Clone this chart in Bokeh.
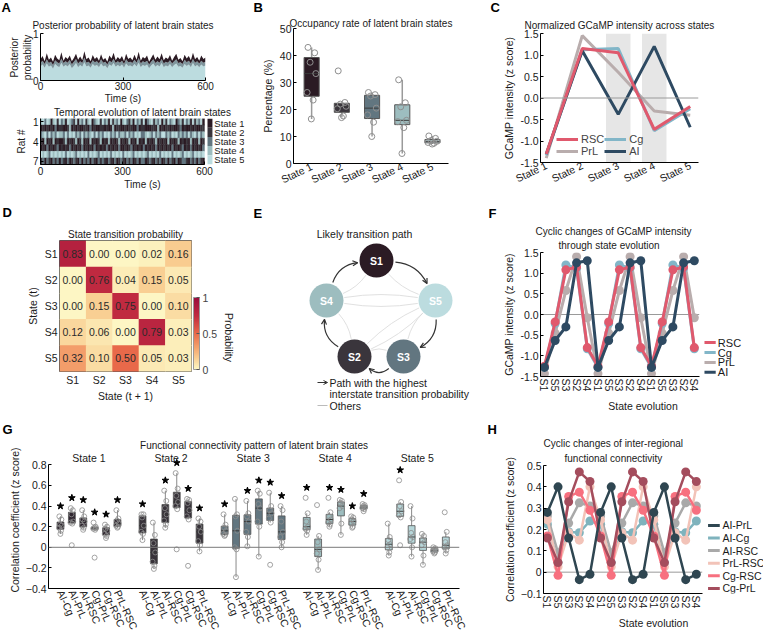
import math
import numpy as np
from bokeh.plotting import figure
from bokeh.models import (Range1d, FixedTicker, NumeralTickFormatter, Legend, LegendItem, Title,
                          Span, LinearColorMapper, ColorBar, FactorRange, Arrow, OpenHead, ColumnDataSource)
from bokeh.embed import file_html
from bokeh.resources import INLINE
from bokeh.core.properties import value

FONT = "Liberation Sans"
TXT = "#1a1a1a"

# ======================= DATA =======================
state_names = ["State 1", "State 2", "State 3", "State 4", "State 5"]
short_states = ["S1", "S2", "S3", "S4", "S5"]
state_colors = ["#2b1b24", "#3a353c", "#627680", "#9dbdbf", "#bcdcdf"]

posterior_light = [0.30,0.34,0.27,0.36,0.29,0.32,0.25,0.35,0.31,0.28,0.38,0.29,0.33,0.30,0.35,0.26,0.31,0.37,0.28,0.33,
                   0.29,0.39,0.30,0.32,0.27,0.35,0.31,0.33,0.28,0.36,0.30,0.32,0.26,0.34,0.31,0.37,0.29,0.33,0.30,0.34,
                   0.27,0.36,0.31,0.32,0.29,0.35,0.30,0.38,0.28,0.33,0.31,0.34,0.26,0.32,0.36,0.29,0.33,0.30,0.37,0.28,
                   0.32,0.30,0.35,0.28,0.33,0.36,0.29,0.31,0.27,0.35,0.31,0.34,0.28,0.37,0.30,0.33,0.28,0.34,0.30,0.32]
posterior_mid = [0.38,0.42,0.35,0.45,0.37,0.40,0.33,0.43,0.39,0.36,0.47,0.37,0.41,0.38,0.44,0.34,0.40,0.46,0.36,0.41,
                 0.37,0.49,0.38,0.40,0.35,0.43,0.39,0.41,0.36,0.45,0.38,0.40,0.34,0.42,0.39,0.46,0.37,0.41,0.38,0.42,
                 0.35,0.45,0.39,0.40,0.37,0.44,0.38,0.48,0.36,0.41,0.39,0.42,0.34,0.40,0.45,0.37,0.41,0.38,0.46,0.36,
                 0.40,0.38,0.43,0.36,0.41,0.45,0.37,0.39,0.35,0.44,0.39,0.42,0.36,0.46,0.38,0.41,0.36,0.42,0.38,0.40]
posterior_top = [0.45,0.52,0.41,0.58,0.44,0.49,0.40,0.55,0.47,0.43,0.60,0.42,0.50,0.46,0.53,0.41,0.48,0.57,0.44,0.51,
                 0.43,0.62,0.45,0.49,0.41,0.54,0.46,0.50,0.42,0.56,0.44,0.48,0.40,0.53,0.47,0.59,0.43,0.50,0.45,0.52,
                 0.41,0.57,0.46,0.49,0.43,0.55,0.44,0.61,0.42,0.50,0.47,0.53,0.40,0.48,0.56,0.44,0.51,0.45,0.58,0.43,
                 0.49,0.46,0.54,0.42,0.50,0.57,0.44,0.48,0.41,0.55,0.47,0.52,0.43,0.59,0.45,0.50,0.42,0.53,0.46,0.49]

rat_state_seq = [
    "4535414525" "3415432514" "3524513452" "5341524351" "4532415342" "5134524351" "4253451342" "5341524351",
    "1212121312" "2112412121" "1221312112" "2121141221" "1212211312" "2111221412" "1221211231" "2112121122",
    "3453534354" "4353545343" "5343453534" "3545343534" "4353435453" "3454353435" "5343545343" "4353453534",
    "2141214121" "1241212412" "4121412124" "1214121241" "2124121412" "1412124121" "2141212412" "1214121412",
    "1213121231" "2121312121" "3121213121" "2131212131" "1212312121" "3121213121" "2121312123" "1213121213",
    "5454354545" "4535454354" "5453545435" "4545354545" "3545435454" "5435454535" "4545354543" "5454354545",
    "2313213231" "3213123213" "1323132132" "3213213123" "2132312313" "3123213231" "2313213123" "3213231321",
]

occupancy = [
    [43.0, 41.0, 37.5, 33.3, 26.3, 23.5, 16.5],
    [34.3, 22.6, 22.0, 21.2, 20.3, 17.6, 17.0],
    [26.3, 25.5, 25.0, 20.5, 18.0, 15.3, 10.0],
    [31.0, 22.5, 21.0, 16.0, 15.5, 13.3, 3.7],
    [10.2, 9.3, 8.5, 8.2, 7.8, 7.5, 7.2],
]

regions = ["RSC", "Cg", "PrL", "AI"]
region_colors = {"RSC": "#e0596d", "Cg": "#82b6c8", "PrL": "#b9adad", "AI": "#2e4a62"}
gcamp_state = {
    "RSC": [-1.30, 1.15, 1.05, -0.73, -0.20],
    "Cg":  [-1.33, 1.12, 1.15, -0.76, -0.25],
    "PrL": [-1.40, 1.45, 0.60, -0.30, -0.40],
    "AI":  [-1.30, 1.10, -0.38, 1.20, -0.68],
}
highlight_states = [3, 4]

trans = [
    [0.83, 0.00, 0.00, 0.02, 0.16],
    [0.00, 0.76, 0.04, 0.15, 0.05],
    [0.00, 0.15, 0.75, 0.00, 0.10],
    [0.12, 0.06, 0.00, 0.79, 0.03],
    [0.32, 0.10, 0.50, 0.05, 0.03],
]

cycle_order = ["S1", "S5", "S3", "S2", "S4"]
n_cycles = 3
gcamp_cycle = {
    "RSC": [-1.25, -0.18, 1.08, 1.15, -0.80],
    "Cg":  [-1.28, -0.22, 1.20, 1.12, -0.83],
    "PrL": [-1.43, -0.45, 0.58, 1.40, -0.08],
    "AI":  [-1.28, -0.63, -0.30, 1.25, 1.30],
}

pairs = ["AI-Cg", "AI-PrL", "AI-RSC", "Cg-PrL", "Cg-RSC", "PrL-RSC"]
fc_values = [
    [[0.30, 0.27, 0.22, 0.21, 0.19, 0.16, 0.13],
     [0.38, 0.36, 0.32, 0.25, 0.24, 0.23, 0.02],
     [0.36, 0.30, 0.27, 0.25, 0.21, 0.19, 0.17],
     [0.24, 0.20, 0.19, 0.185, 0.18, 0.17, -0.10],
     [0.22, 0.20, 0.18, 0.16, 0.13, 0.11, 0.09],
     [0.36, 0.28, 0.26, 0.23, 0.21, 0.20, 0.19]],
    [[0.32, 0.32, 0.29, 0.21, 0.15, 0.13, 0.07],
     [0.24, 0.12, 0.04, -0.05, -0.14, -0.18, -0.21],
     [0.55, 0.45, 0.38, 0.32, 0.26, 0.22, 0.19],
     [0.72, 0.57, 0.50, 0.44, 0.40, 0.37, -0.02],
     [0.47, 0.46, 0.43, 0.36, 0.30, 0.27, -0.18],
     [0.28, 0.25, 0.20, 0.15, 0.06, 0.02, -0.04]],
    [[0.32, 0.22, 0.19, 0.16, 0.13, 0.12, 0.11],
     [0.47, 0.32, 0.30, 0.16, 0.00, -0.02, -0.29],
     [0.45, 0.33, 0.30, 0.25, 0.15, 0.10, 0.01],
     [0.55, 0.52, 0.42, 0.38, 0.25, 0.20, -0.09],
     [0.53, 0.40, 0.36, 0.33, 0.28, 0.24, -0.17],
     [0.40, 0.36, 0.25, 0.15, 0.10, 0.05, 0.00]],
    [[0.48, 0.33, 0.25, 0.20, 0.18, 0.16, 0.12],
     [0.41, 0.11, 0.05, -0.02, -0.06, -0.12, -0.22],
     [0.48, 0.34, 0.30, 0.27, 0.24, 0.22, 0.20],
     [0.46, 0.45, 0.43, 0.40, 0.38, 0.23, 0.12],
     [0.30, 0.29, 0.27, 0.25, 0.23, 0.20, 0.19],
     [0.42, 0.41, 0.40, 0.39, 0.38, 0.37, 0.35]],
    [[0.23, 0.10, 0.07, 0.03, 0.00, -0.05, -0.08],
     [0.65, 0.44, 0.40, 0.35, 0.31, 0.29, 0.02],
     [0.40, 0.28, 0.14, 0.10, 0.08, 0.00, -0.09],
     [0.13, 0.11, 0.07, 0.05, 0.02, -0.08, -0.17],
     [0.00, -0.01, -0.02, -0.03, -0.04, -0.05, -0.06],
     [0.34, 0.15, 0.05, 0.02, 0.00, -0.03, -0.06]],
]
fc_significant = [
    [1, 1, 1, 1, 1, 1],
    [1, 0, 1, 1, 1, 1],
    [1, 0, 1, 1, 1, 1],
    [1, 0, 1, 1, 1, 1],
    [0, 1, 0, 0, 0, 0],
]
fc_box_colors = ["#302731", "#38333a", "#627680", "#9dbdbf", "#b7d7da"]

fc_pairs_h = ["AI-PrL", "AI-Cg", "AI-RSC", "PrL-RSC", "Cg-RSC", "Cg-PrL"]
fc_pair_colors = {"AI-PrL": "#2f4651", "AI-Cg": "#7fb3bd", "AI-RSC": "#a9a9a9",
                  "PrL-RSC": "#f2c3b8", "Cg-RSC": "#f7707f", "Cg-PrL": "#a44d5d"}
fc_cycle = {
    "AI-PrL":  [0.28, 0.40, 0.16, -0.035, -0.01],
    "AI-Cg":   [0.225, 0.045, 0.19, 0.185, 0.24],
    "AI-RSC":  [0.265, 0.09, 0.23, 0.325, 0.31],
    "PrL-RSC": [0.245, 0.025, 0.185, 0.15, 0.40],
    "Cg-RSC":  [0.17, -0.015, 0.355, 0.375, 0.29],
    "Cg-PrL":  [0.16, 0.045, 0.33, 0.47, 0.425],
}


# ======================= HELPERS =======================
def mk(w, h, l, r, t, b, **kw):
    p = figure(width=w, height=h, output_backend="svg", toolbar_location=None,
               min_border_left=l, min_border_right=r, min_border_top=t, min_border_bottom=b, **kw)
    p.outline_line_color = None
    p.xgrid.visible = False
    p.ygrid.visible = False
    p.background_fill_color = None
    p.border_fill_color = None
    return p


def style_axes(p, fs="10px"):
    for ax in p.axis:
        ax.axis_line_color = "black"
        ax.axis_line_width = 1
        ax.major_tick_line_color = "black"
        ax.major_tick_in = 3
        ax.major_tick_out = 0
        ax.minor_tick_line_color = None
        ax.major_label_text_font = FONT
        ax.major_label_text_font_size = fs
        ax.major_label_text_color = TXT
        ax.axis_label_text_font = FONT
        ax.axis_label_text_font_size = fs
        ax.axis_label_text_font_style = "normal"
        ax.axis_label_text_color = TXT
        ax.axis_label_standoff = 3
        ax.major_label_standoff = 2


def style_title(t, standoff, align="center", offset=0):
    t.align = align
    t.offset = offset
    t.text_font = FONT
    t.text_font_size = "10px"
    t.text_font_style = "normal"
    t.text_color = TXT
    t.standoff = standoff


def set_titles(p, lines, standoff, align="center", offsets=(0, 0)):
    p.title.text = lines[0]
    if len(lines) == 1:
        style_title(p.title, standoff, align, offsets[0])
    else:
        style_title(p.title, 0, align, offsets[0])
        t2 = Title(text=lines[1])
        style_title(t2, standoff, align, offsets[1])
        p.add_layout(t2, "above")


def box_stats(v):
    v = np.asarray(v, float)
    q1, med, q3 = np.percentile(v, [25, 50, 75])
    iqr = q3 - q1
    lo = v[v >= q1 - 1.5 * iqr].min()
    hi = v[v <= q3 + 1.5 * iqr].max()
    return q1, med, q3, lo, hi


def txt(p, x, y, s, size="10px", color=TXT, align="left", baseline="middle", style="normal", angle=0):
    p.text(x=x, y=y, text=s, text_align=align, text_baseline=baseline, text_font=value(FONT),
           text_font_size=size, text_font_style=style, text_color=color, angle=angle)


jit = [-0.12, 0.10, -0.05, 0.14, -0.15, 0.05, -0.01]

# ======================= PANEL A =======================
pa1 = mk(240, 106, 40, 35, 33, 25, x_range=Range1d(0, 600), y_range=Range1d(0, 1))
tA = np.linspace(0, 600, len(posterior_top))
pa1.varea(x=tA, y1=0, y2=posterior_light, fill_color=state_colors[4])
pa1.varea(x=tA, y1=posterior_light, y2=posterior_mid, fill_color="#7f959c")
pa1.varea(x=tA, y1=posterior_mid, y2=posterior_top, fill_color=state_colors[0])
style_axes(pa1)
pa1.xaxis.ticker = FixedTicker(ticks=[0, 300, 600])
pa1.yaxis.ticker = FixedTicker(ticks=[0, 1])
pa1.xaxis.axis_label = "Time (s)"
pa1.xaxis.axis_label_standoff = 0
pa1.xaxis.major_label_standoff = 1
set_titles(pa1, ["Posterior probability of latent brain states"], 6)

A2_XEND = 600 * (244 - 40) / 164.0
pa2 = mk(245, 100, 40, 1, 18, 36, x_range=Range1d(0, A2_XEND), y_range=Range1d(7.5, 0.5))
L, R, T, B, C = [], [], [], [], []
for i, seq in enumerate(rat_state_seq):
    w = 600.0 / len(seq)
    for j, ch in enumerate(seq):
        L.append(j * w); R.append((j + 1) * w)
        T.append(i + 0.5); B.append(i + 1.5)
        C.append(state_colors[int(ch) - 1])
pa2.quad(left=L, right=R, top=T, bottom=B, fill_color=C, line_color=C, line_width=0.4)
n_st = len(state_names)
hst = 7.0 / n_st
pa2.quad(left=[611] * n_st, right=[629] * n_st, top=[0.5 + k * hst for k in range(n_st)],
         bottom=[0.5 + (k + 1) * hst for k in range(n_st)], fill_color=state_colors, line_color=None)
txt(pa2, [636] * n_st, [0.5 + (k + 0.5) * hst for k in range(n_st)], state_names, size="9.5px")
style_axes(pa2)
pa2.xaxis.bounds = (0, 600)
pa2.xaxis.ticker = FixedTicker(ticks=[0, 300, 600])
pa2.yaxis.ticker = FixedTicker(ticks=[1, 4, 7])
pa2.xaxis.axis_label = "Time (s)"
pa2.xaxis.axis_label_standoff = 1
pa2.yaxis.axis_label = "Rat #"
pa2.title.text = "Temporal evolution of latent brain states"
style_title(pa2.title, 1)
pa2.title.offset = 0

# ======================= PANEL B =======================
pB = mk(260, 200, 53, 52, 28, 37, x_range=Range1d(0.40, 5.53), y_range=Range1d(0, 50))
bx, bq1, bq3, bmed, blo, bhi = [], [], [], [], [], []
px, py = [], []
for k, vals in enumerate(occupancy):
    q1, med, q3, lo, hi = box_stats(vals)
    x = k + 1
    bx.append(x); bq1.append(q1); bq3.append(q3); bmed.append(med); blo.append(lo); bhi.append(hi)
    for j, v in enumerate(vals):
        px.append(x + jit[j % len(jit)]); py.append(v)
pB.segment(x0=bx, y0=blo, x1=bx, y1=bq1, line_color="#9a9a9a", line_width=1.5)
pB.segment(x0=bx, y0=bq3, x1=bx, y1=bhi, line_color="#9a9a9a", line_width=1.5)
pB.vbar(x=bx, width=0.5, bottom=bq1, top=bq3, fill_color=state_colors, line_color="#555555", line_width=1)
pB.segment(x0=[x - 0.25 for x in bx], y0=bmed, x1=[x + 0.25 for x in bx], y1=bmed,
           line_color="#3a3a3a", line_width=1)
pB.scatter(px, py, marker="circle", size=6, fill_color=None, line_color="#8f8f8f", line_width=1)
style_axes(pB, "10.5px")
pB.xaxis.ticker = FixedTicker(ticks=bx)
pB.xaxis.major_label_overrides = {x: n for x, n in zip(bx, state_names)}
pB.xaxis.major_label_orientation = 0.45
pB.xaxis.major_tick_in = 0
pB.yaxis.ticker = FixedTicker(ticks=[0, 10, 20, 30, 40, 50])
pB.yaxis.axis_label = "Percentage (%)"
set_titles(pB, ["Occupancy rate of latent brain states"], 0)

# ======================= PANEL C =======================
pC = mk(263, 200, 37, 65, 33, 38, x_range=Range1d(0.84, 5.23), y_range=Range1d(-1.5, 1.5))
pC.vbar(x=highlight_states, width=0.68, bottom=-1.5, top=1.5, fill_color="#e6e6e6", line_color=None)
pC.add_layout(Span(location=0, dimension="width", line_color="#9a9a9a", line_width=1))
xs = [1, 2, 3, 4, 5]
rC = {}
for reg in ["PrL", "Cg", "AI", "RSC"]:
    rC[reg] = pC.line(xs, gcamp_state[reg], line_color=region_colors[reg], line_width=3)
style_axes(pC, "10.5px")
pC.xaxis.ticker = FixedTicker(ticks=xs)
pC.xaxis.major_label_overrides = {x: n for x, n in zip(xs, state_names)}
pC.xaxis.major_label_orientation = 0.45
pC.xaxis.major_tick_in = 0
pC.yaxis.ticker = FixedTicker(ticks=[-1.5, -1, -0.5, 0, 0.5, 1, 1.5])
pC.yaxis.formatter = NumeralTickFormatter(format="0.0")
pC.yaxis.axis_label = "GCaMP intensity (z score)"
pC.yaxis.axis_label_standoff = 2
set_titles(pC, ["Normalized GCaMP intensity across states"], 5)
legC = Legend(items=[LegendItem(label=n, renderers=[rC[n]]) for n in ["RSC", "PrL", "Cg", "AI"]],
              location=(16, 5), ncols=2, glyph_width=22, glyph_height=12, label_height=12,
              spacing=0, padding=0, margin=0, label_standoff=3, label_text_font=FONT,
              label_text_font_size="11px", border_line_color=None, background_fill_alpha=0)
pC.add_layout(legC)

# ======================= PANEL D =======================
stops = [0.0, 0.15, 0.3, 0.5, 0.75, 1.0]
stop_cols = ["#fdf6c4", "#f9cf93", "#f4a36d", "#e8694a", "#c02a40", "#9b0d3d"]
rgb = np.array([[int(c[i:i + 2], 16) for i in (1, 3, 5)] for c in stop_cols], float)
palette = []
for t in np.linspace(0, 1, 101):
    palette.append("#%02x%02x%02x" % tuple(int(round(np.interp(t, stops, rgb[:, k]))) for k in range(3)))
mapper = LinearColorMapper(palette=palette, low=0, high=1)

pD = mk(240, 215, 59, 49, 40, 44, x_range=FactorRange(*short_states),
        y_range=FactorRange(*short_states[::-1]))
dx, dy, dp, dt = [], [], [], []
for i in range(5):
    for j in range(5):
        dx.append(short_states[j]); dy.append(short_states[i])
        dp.append(trans[i][j]); dt.append("%.2f" % trans[i][j])
srcD = ColumnDataSource(data={"x": dx, "y": dy, "p": dp, "t": dt})
pD.rect(x="x", y="y", width=1, height=1, dilate=True, line_color=None,
        fill_color={"field": "p", "transform": mapper}, source=srcD)
pD.text(x="x", y="y", text="t", text_align="center", text_baseline="middle",
        text_font=value(FONT), text_font_size="10.5px", text_color="#2a2a2a", source=srcD)
style_axes(pD, "10.5px")
for ax in pD.axis:
    ax.axis_line_color = None
    ax.major_tick_line_color = None
pD.outline_line_color = "#555555"
pD.xaxis.axis_label = "State (t + 1)"
pD.xaxis.axis_label_standoff = 1
pD.yaxis.axis_label = "State (t)"
set_titles(pD, ["State transition probability"], 2)
cb = ColorBar(color_mapper=mapper, ticker=FixedTicker(ticks=[0, 0.5, 1]),
              major_label_overrides={0: "0", 0.5: "0.5", 1: "1"}, width=6, height=72,
              location="bottom_left", padding=2, margin=8, bar_line_color="#999999",
              major_tick_line_color="#555555", major_tick_in=3, major_tick_out=0,
              minor_tick_line_color=None, label_standoff=3, major_label_text_font=FONT,
              major_label_text_font_size="10.5px", background_fill_alpha=0, border_line_color=None)
pD.add_layout(cb, "right")

# ======================= PANEL E =======================
pE = figure(width=260, height=215, x_range=Range1d(0, 260), y_range=Range1d(0, 215),
            output_backend="svg", toolbar_location=None, min_border=0, title=None)
pE.axis.visible = False
pE.xgrid.visible = False
pE.ygrid.visible = False
pE.outline_line_color = None
pE.background_fill_color = None
pE.border_fill_color = None
node_pos = {"S1": (136, 155), "S5": (195, 115), "S3": (163, 59), "S2": (114, 59), "S4": (86, 115)}
RAD = 17


def curve(a, b, bend, pad):
    (x0, y0), (x1, y1) = node_pos[a], node_pos[b]
    mx, my = (x0 + x1) / 2, (y0 + y1) / 2
    ddx, ddy = x1 - x0, y1 - y0
    Ln = math.hypot(ddx, ddy)
    nx, ny = -ddy / Ln, ddx / Ln
    cx, cy = mx + nx * bend, my + ny * bend

    def trim(px_, py_):
        vx, vy = cx - px_, cy - py_
        l = math.hypot(vx, vy)
        return px_ + vx / l * pad, py_ + vy / l * pad
    sx, sy = trim(x0, y0)
    ex, ey = trim(x1, y1)
    return sx, sy, ex, ey, cx, cy


best = [int(np.argmax([trans[i][j] if j != i else -1 for j in range(5)])) for i in range(5)]
gray_edges, black_edges = [], []
for i in range(5):
    for j in range(5):
        if i != j and trans[i][j] > 0:
            (black_edges if best[i] == j else gray_edges).append((short_states[i], short_states[j]))
for a, b in gray_edges:
    sx, sy, ex, ey, cx, cy = curve(a, b, 9, RAD + 1)
    pE.quadratic(x0=[sx], y0=[sy], x1=[ex], y1=[ey], cx=[cx], cy=[cy], line_color="#d8d8d8", line_width=0.8)
for a, b in black_edges:
    sx, sy, ex, ey, cx, cy = curve(a, b, 20, RAD + 2)
    pE.quadratic(x0=[sx], y0=[sy], x1=[ex], y1=[ey], cx=[cx], cy=[cy], line_color="#333333", line_width=1.2)
    tx, ty = ex - cx, ey - cy
    tl = math.hypot(tx, ty)
    pE.add_layout(Arrow(end=OpenHead(size=5, line_color="#333333", line_width=1.2),
                        x_start=ex - tx / tl * 2, y_start=ey - ty / tl * 2, x_end=ex, y_end=ey,
                        line_color="#333333", line_width=1.2))
nxs = [node_pos[s][0] for s in short_states]
nys = [node_pos[s][1] for s in short_states]
pE.circle(x=nxs, y=nys, radius=RAD, fill_color=state_colors, line_color=None)
txt(pE, nxs, nys, short_states, size="10.5px", color="white", align="center", style="bold")
txt(pE, [124], [182], ["Likely transition path"], size="10.5px", align="center")
pE.add_layout(Arrow(end=OpenHead(size=4, line_color="#333333", line_width=1), x_start=77, y_start=33,
                    x_end=87, y_end=33, line_color="#333333", line_width=1))
txt(pE, [89, 89, 89], [33, 22, 10],
    ["Path with the highest", "interstate transition probability", "Others"], size="10.5px")
pE.segment(x0=[77], y0=[10], x1=[87], y1=[10], line_color="#bbbbbb", line_width=1)

# ======================= PANEL F =======================
nF = len(cycle_order) * n_cycles
xF = list(range(nF))
F_X0, F_XAX = -0.37, nF - 1 + 0.46
pF = mk(263, 215, 37, 18, 52, 33, x_range=Range1d(F_X0, F_X0 + 208 / 10.86), y_range=Range1d(-1.5, 1.5))
pF.segment(x0=[F_X0], y0=[0], x1=[F_XAX], y1=[0], line_color="#9a9a9a", line_width=1)
for reg in ["PrL", "Cg", "RSC", "AI"]:
    ys = gcamp_cycle[reg] * n_cycles
    pF.line(xF, ys, line_color=region_colors[reg], line_width=3)
    pF.scatter(xF, ys, marker="circle", size=9, fill_color=region_colors[reg], line_color=None)
legy = [-0.68 - 0.24 * k for k in range(len(regions))]
pF.segment(x0=[14.95] * 4, y0=legy, x1=[16.0] * 4, y1=legy,
           line_color=[region_colors[r] for r in regions], line_width=3)
txt(pF, [16.2] * 4, legy, regions, size="11px")
style_axes(pF, "10.5px")
pF.xaxis.bounds = (F_X0, F_XAX)
pF.xaxis.ticker = FixedTicker(ticks=xF)
pF.xaxis.major_label_overrides = {i: cycle_order[i % len(cycle_order)] for i in xF}
pF.xaxis.major_label_orientation = -math.pi / 2
pF.xaxis.major_tick_in = 0
pF.xaxis.axis_label = "State evolution"
pF.xaxis.axis_label_standoff = 6
pF.yaxis.ticker = FixedTicker(ticks=[-1.5, -1, -0.5, 0, 0.5, 1, 1.5])
pF.yaxis.formatter = NumeralTickFormatter(format="0.0")
pF.yaxis.axis_label = "GCaMP intensity (z score)"
pF.yaxis.axis_label_standoff = 2
set_titles(pF, ["Cyclic changes of GCaMP intensity", "through state evolution"], 3,
           align="left", offsets=(-5, 18))

# ======================= PANEL G =======================
GSTRIDE = 7.2
pG = mk(500, 221, 48, 41, 36, 42, x_range=Range1d(-1.05, 35.0), y_range=Range1d(-0.4, 0.93))
pG.add_layout(Span(location=0, dimension="width", line_color="#7a7a7a", line_width=1))
gx, gq1, gq3, gmed, glo, ghi, gcol = [], [], [], [], [], [], []
gpx, gpy, sx_, sy_ = [], [], [], []
tick_pos, tick_lab = [], []
for g in range(5):
    for i in range(6):
        vals = fc_values[g][i]
        q1, med, q3, lo, hi = box_stats(vals)
        x = g * GSTRIDE + i
        gx.append(x); gq1.append(q1); gq3.append(q3); gmed.append(med); glo.append(lo); ghi.append(hi)
        gcol.append(fc_box_colors[g])
        tick_pos.append(x); tick_lab.append(pairs[i])
        for j, v in enumerate(vals):
            gpx.append(x + 0.8 * jit[j % len(jit)]); gpy.append(v)
        if fc_significant[g][i]:
            sx_.append(x); sy_.append(max(vals) + 0.1)
pG.segment(x0=gx, y0=glo, x1=gx, y1=gq1, line_color="#8a8a8a", line_width=1)
pG.segment(x0=gx, y0=gq3, x1=gx, y1=ghi, line_color="#8a8a8a", line_width=1)
pG.vbar(x=gx, width=0.6, bottom=gq1, top=gq3, fill_color=gcol, line_color="#505050", line_width=0.8)
pG.segment(x0=[x - 0.3 for x in gx], y0=gmed, x1=[x + 0.3 for x in gx], y1=gmed,
           line_color="#3a3a3a", line_width=1)
pG.scatter(gpx, gpy, marker="circle", size=5, fill_color=None, line_color="#8d8d8d", line_width=0.8)
pG.scatter(sx_, sy_, marker="star", size=7, fill_color="black", line_color="black")
txt(pG, [g * GSTRIDE + 2.5 for g in range(5)], [0.865] * 5, state_names, size="10.5px", align="center")
style_axes(pG, "10.5px")
pG.yaxis.bounds = (-0.4, 0.8)
yt = [-0.4, -0.2, 0, 0.2, 0.4, 0.6, 0.8]
pG.yaxis.ticker = FixedTicker(ticks=yt)
pG.yaxis.major_label_overrides = {-0.4: "\u22120.4", -0.2: "\u22120.2", 0: "0", 0.2: "0.2",
                                  0.4: "0.4", 0.6: "0.6", 0.8: "0.8"}
pG.yaxis.axis_label = "Correlation coefficient (z score)"
pG.yaxis.axis_label_standoff = 2
pG.xaxis.ticker = FixedTicker(ticks=tick_pos)
pG.xaxis.major_label_overrides = {x: l for x, l in zip(tick_pos, tick_lab)}
pG.xaxis.major_label_orientation = -1.15
pG.xaxis.major_tick_in = 0
set_titles(pG, ["Functional connectivity pattern of latent brain states"], 2)

# ======================= PANEL H =======================
H_X0, H_XAX = -0.366, nF - 1 + 0.55
pH = mk(263, 221, 37, 0, 50, 43, x_range=Range1d(H_X0, H_X0 + 226 / 10.93), y_range=Range1d(-0.1, 0.5))
pH.segment(x0=[H_X0], y0=[0], x1=[H_XAX], y1=[0], line_color="#9a9a9a", line_width=1)
for pr in ["AI-Cg", "AI-RSC", "PrL-RSC", "Cg-RSC", "Cg-PrL", "AI-PrL"]:
    ys = fc_cycle[pr] * n_cycles
    pH.line(xF, ys, line_color=fc_pair_colors[pr], line_width=2.5)
    pH.scatter(xF, ys, marker="circle", size=9, fill_color=fc_pair_colors[pr], line_color=None)
legyh = [0.219 - 0.059 * k for k in range(len(fc_pairs_h))]
pH.segment(x0=[15.1] * 6, y0=legyh, x1=[16.2] * 6, y1=legyh,
           line_color=[fc_pair_colors[p_] for p_ in fc_pairs_h], line_width=3)
txt(pH, [16.45] * 6, legyh, fc_pairs_h, size="10.5px")
style_axes(pH, "10.5px")
pH.xaxis.bounds = (H_X0, H_XAX)
pH.xaxis.ticker = FixedTicker(ticks=xF)
pH.xaxis.major_label_overrides = {i: cycle_order[i % len(cycle_order)] for i in xF}
pH.xaxis.major_label_orientation = -math.pi / 2
pH.xaxis.major_tick_in = 0
pH.xaxis.axis_label = "State evolution"
pH.xaxis.axis_label_standoff = 6
ht = [-0.1, 0, 0.1, 0.2, 0.3, 0.4, 0.5]
pH.yaxis.ticker = FixedTicker(ticks=ht)
pH.yaxis.major_label_overrides = {-0.1: "\u22120.1", 0: "0", 0.1: "0.1", 0.2: "0.2", 0.3: "0.3",
                                  0.4: "0.4", 0.5: "0.5"}
pH.yaxis.axis_label = "Correlation coefficient (z score)"
pH.yaxis.axis_label_standoff = 2
set_titles(pH, ["Cyclic changes of inter-regional", "functional connectivity"], 4,
           align="left", offsets=(0, 21))

# ======================= OVERLAY (panel letters, free labels) =======================
W, H = 763, 636
ov = figure(width=W, height=H, x_range=Range1d(0, W), y_range=Range1d(0, H), output_backend="svg",
            toolbar_location=None, min_border=0, title=None)
ov.axis.visible = False
ov.xgrid.visible = False
ov.ygrid.visible = False
ov.outline_line_color = None
ov.background_fill_color = None
ov.border_fill_color = None
letters = ["A", "B", "C", "D", "E", "F", "G", "H"]
letter_xy = [(1, 7), (253, 7), (490, 7), (2, 212), (253, 213), (488, 213), (2, 429), (487, 429)]
txt(ov, [p_[0] for p_ in letter_xy], [H - p_[1] for p_ in letter_xy], letters, size="13px",
    color="black", style="bold")
txt(ov, [14, 27], [H - 57, H - 57], ["Posterior", "probability"], size="10px", align="center",
    angle=math.pi / 2)
txt(ov, [228], [H - 337], ["Probability"], size="10.5px", align="center", angle=-math.pi / 2)

models = [pa1, pa2, pB, pC, pD, pE, pF, pG, pH, ov]
positions = [(0, 0), (0, 100), (240, 0), (500, 0), (0, 200), (240, 200), (500, 200),
             (0, 415), (500, 415), (0, 0)]

TEMPLATE = """
{% block contents %}
<div style="position:relative;width:763px;height:636px;overflow:hidden;background:white;">
{% for r in roots %}
<div style="position:absolute;left:{{ positions[loop.index0][0] }}px;top:{{ positions[loop.index0][1] }}px;">
{{ embed(r) }}
</div>
{% endfor %}
</div>
{% endblock %}
"""

html = file_html(models, INLINE, title="Latent brain states", template=TEMPLATE,
                 template_variables={"positions": positions})
open("out.html", "w").write(html)
